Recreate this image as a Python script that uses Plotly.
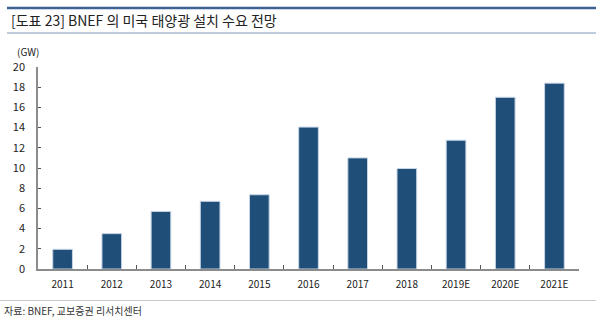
import plotly.graph_objects as go

# US solar installation demand outlook (BNEF), GW
years = ["2011", "2012", "2013", "2014", "2015", "2016", "2017", "2018", "2019E", "2020E", "2021E"]
demand_gw = [1.95, 3.5, 5.7, 6.7, 7.35, 14.05, 11.0, 9.95, 12.75, 17.0, 18.4]
y_ticks = [0, 2, 4, 6, 8, 10, 12, 14, 16, 18, 20]

title_text = "[도표 23] BNEF 의 미국 태양광 설치 수요 전망"
unit_text = "(GW)"
source_text = "자료: BNEF, 교보증권 리서치센터"

W, H = 600, 322
L, R, T, B = 38, 21, 67, 53
PW, PH = W - L - R, H - T - B

FONT = "Noto Sans CJK KR, Noto Sans, sans-serif"


def px(x):
    return (x - L) / PW


def py(y):
    return (H - B - y) / PH


fig = go.Figure(
    go.Bar(
        x=years,
        y=demand_gw,
        width=0.4,
        marker=dict(color="#1f4e79", line=dict(color="#c7d5e6", width=1)),
    )
)

fig.update_layout(
    width=W,
    height=H,
    margin=dict(l=L, r=R, t=T, b=B),
    paper_bgcolor="white",
    plot_bgcolor="white",
    showlegend=False,
    font=dict(family=FONT, size=10, color="#222"),
    bargap=0.6,
)

fig.update_xaxes(
    showline=True,
    linecolor="#8c8c8c",
    linewidth=1.5,
    ticks="inside",
    tickson="boundaries",
    ticklen=4,
    tickcolor="#555",
    showgrid=False,
    tickfont=dict(size=10, color="#222"),
    ticklabelstandoff=5,
)

fig.update_yaxes(
    range=[0, 20],
    tickvals=y_ticks,
    showline=True,
    linecolor="#8c8c8c",
    linewidth=1.5,
    ticks="inside",
    ticklen=3,
    tickcolor="#555",
    showgrid=False,
    zeroline=False,
    tickfont=dict(size=11, color="#222"),
    ticklabelstandoff=9,
)

shapes = [
    dict(type="line", xref="paper", yref="paper", x0=px(7), x1=px(596), y0=py(8), y1=py(8),
         line=dict(color="#3d6394", width=2.5)),
    dict(type="line", xref="paper", yref="paper", x0=px(7), x1=px(596), y0=py(33), y1=py(33),
         line=dict(color="#a8bad0", width=1.5)),
    dict(type="line", xref="paper", yref="paper", x0=px(0), x1=px(596), y0=py(300.5), y1=py(300.5),
         line=dict(color="#c8c8c8", width=1)),
]

annotations = [
    dict(text=title_text, xref="paper", yref="paper", x=px(9), y=py(20), xanchor="left",
         yanchor="middle", showarrow=False, font=dict(size=14, color="#222", family=FONT)),
    dict(text=unit_text, xref="paper", yref="paper", x=px(15), y=py(52), xanchor="left",
         yanchor="middle", showarrow=False, font=dict(size=10, color="#222", family=FONT)),
    dict(text=source_text, xref="paper", yref="paper", x=px(2), y=py(310), xanchor="left",
         yanchor="middle", showarrow=False, font=dict(size=10, color="#333", family=FONT)),
]

fig.update_layout(shapes=shapes, annotations=annotations)

fig.write_html("out.html")
